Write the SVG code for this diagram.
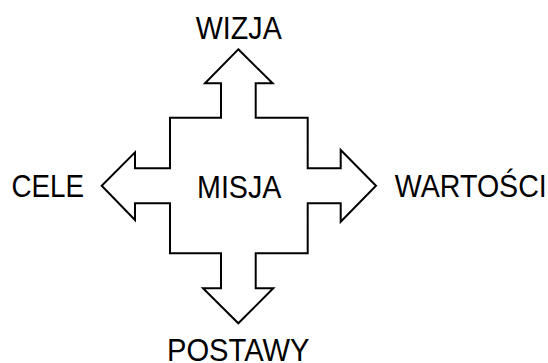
<svg xmlns="http://www.w3.org/2000/svg" width="548" height="363" viewBox="0 0 548 363">
<style>
.shape{fill:#fff;stroke:#000;stroke-width:2;stroke-linejoin:miter}
.lbl{font-family:"Liberation Sans",Arial,sans-serif;font-size:30.5px;fill:#000}
</style>
<rect width="548" height="363" fill="#fff"/>
<g id="cross">
<polygon class="shape" points="238.3,49.3 272.7,83.3 255.7,83.3 255.7,117.7 307.7,117.7 307.7,168.3 340.7,168.3 340.7,150 376,185.7 340.7,221.7 340.7,203.3 307.7,203.3 307.7,253.3 255.7,253.3 255.7,288.3 273.3,288.3 238.3,323.3 203,288.3 221,288.3 221,253.3 170,253.3 170,203.3 135,203.3 135,220 101.7,185.7 135,152.3 135,168.3 170,168.3 170,117.7 221,117.7 221,83.3 205,83.3"/>
</g>
<g id="misja"><text class="lbl" x="197" y="198.3" textLength="84.5" lengthAdjust="spacingAndGlyphs">MISJA</text></g>
<g id="wizja"><text class="lbl" x="195.8" y="39.3" textLength="86" lengthAdjust="spacingAndGlyphs">WIZJA</text></g>
<g id="cele"><text class="lbl" x="11.5" y="197.3" textLength="72.5" lengthAdjust="spacingAndGlyphs">CELE</text></g>
<g id="wartosci"><text class="lbl" x="394.8" y="197.3" textLength="152" lengthAdjust="spacingAndGlyphs">WARTOŚCI</text></g>
<g id="postawy"><text class="lbl" x="167" y="361" textLength="142.5" lengthAdjust="spacingAndGlyphs">POSTAWY</text></g>
</svg>
